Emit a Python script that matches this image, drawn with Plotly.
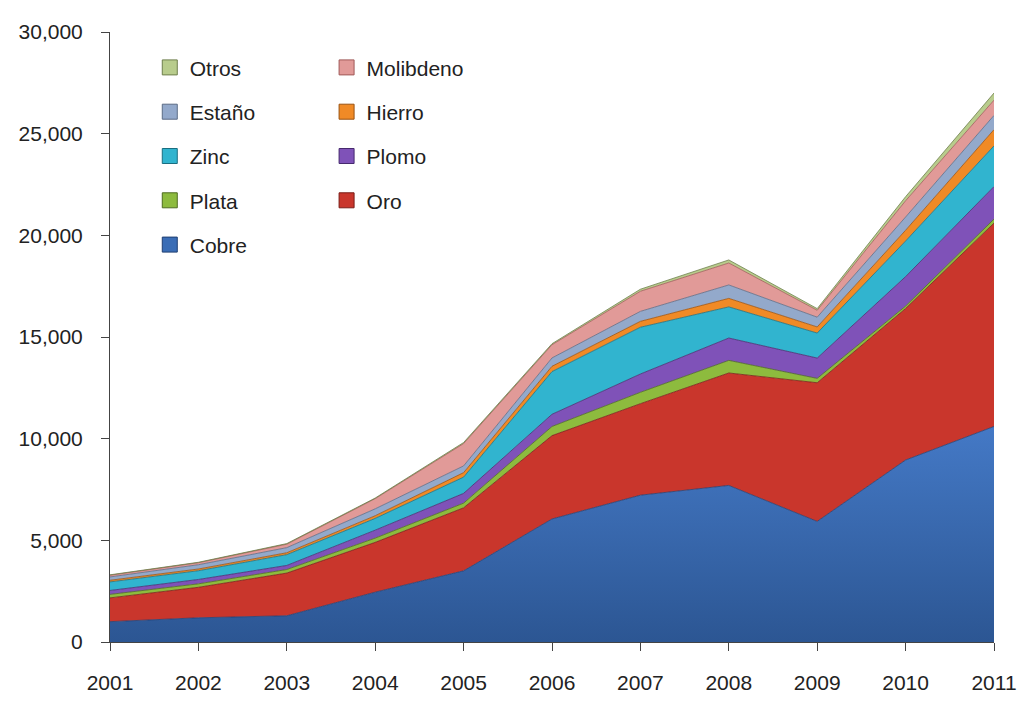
import plotly.graph_objects as go

years = [2001, 2002, 2003, 2004, 2005, 2006, 2007, 2008, 2009, 2010, 2011]

cobre     = [1000, 1190, 1290, 2450, 3500, 6050, 7220, 7700, 5930, 8950, 10600]
oro       = [1170, 1500, 2100, 2450, 3100, 4100, 4500, 5530, 6820, 7450, 10000]
plata     = [170, 170, 175, 210, 230, 450, 560, 620, 215, 120, 200]
plomo     = [195, 215, 200, 390, 480, 600, 900, 1100, 1000, 1450, 1600]
zinc      = [420, 430, 530, 580, 800, 2100, 2300, 1530, 1230, 1750, 2000]
hierro    = [82, 85, 95, 130, 220, 260, 290, 420, 300, 530, 800]
estano    = [162, 210, 250, 340, 330, 410, 490, 660, 480, 650, 700]
molibdeno = [85, 100, 170, 500, 1100, 650, 990, 1080, 340, 800, 750]
otros     = [20, 20, 30, 30, 50, 50, 100, 150, 80, 200, 350]

series = [
    ("Cobre", cobre, "#3a6db6", "#1f3f73", "legend", ["#2c5693", "#4479c6"]),
    ("Oro", oro, "#c9362c", "#7a1c16", "legend2", None),
    ("Plata", plata, "#8dbb3e", "#4d6b1e", "legend", None),
    ("Plomo", plomo, "#7f52b8", "#46296e", "legend2", None),
    ("Zinc", zinc, "#31b4cf", "#1a6e80", "legend", None),
    ("Hierro", hierro, "#f08a26", "#9a5210", "legend2", None),
    ("Estaño", estano, "#93a9cb", "#5a6b85", "legend", None),
    ("Molibdeno", molibdeno, "#e19a98", "#a05a58", "legend2", None),
    ("Otros", otros, "#b8cc8c", "#6e7f4c", "legend", None),
]

fig = go.Figure()
for name, vals, col, edge, lg, grad in series:
    kw = {}
    if grad:
        kw["fillgradient"] = dict(type="vertical",
                                  colorscale=[[0, grad[0]], [1, grad[1]]])
    fig.add_trace(go.Scatter(
        x=years, y=vals, name=name, mode="lines",
        stackgroup="one", fillcolor=col,
        line=dict(color=edge, width=0.8),
        showlegend=False, **kw,
    ))

# legend entries (square swatches), top series first
for name, vals, col, edge, lg, grad in reversed(series):
    fig.add_trace(go.Scatter(
        x=[None], y=[None], name=name, mode="markers",
        marker=dict(symbol="square", size=15, color=col,
                    line=dict(color=edge, width=1)),
        legend=lg, legendgroup=name, showlegend=True,
    ))

font_family = "Liberation Sans, Arial, sans-serif"

fig.update_layout(
    width=1033, height=702,
    margin=dict(l=110, r=39, t=32, b=60),
    paper_bgcolor="white", plot_bgcolor="white",
    font=dict(family=font_family, size=21, color="#222222"),
    showlegend=True,
    legend=dict(x=0.045, y=0.975, xanchor="left", yanchor="top",
                traceorder="grouped", tracegroupgap=14,
                font=dict(size=21), bgcolor="rgba(0,0,0,0)",
                itemsizing="trace"),
    legend2=dict(x=0.245, y=0.975, xanchor="left", yanchor="top",
                 traceorder="grouped", tracegroupgap=14,
                 font=dict(size=21), bgcolor="rgba(0,0,0,0)",
                 itemsizing="trace"),
    xaxis=dict(range=[2001, 2011], tickmode="array", tickvals=years,
               ticktext=[str(y) for y in years],
               showgrid=False, zeroline=False, showline=True,
               linecolor="#444444", linewidth=1,
               ticks="outside", ticklen=8, tickcolor="#444444",
               ticklabelstandoff=14, automargin=False),
    yaxis=dict(range=[0, 30000], tickmode="array",
               tickvals=[0, 5000, 10000, 15000, 20000, 25000, 30000],
               tickformat=",", showgrid=False, zeroline=False,
               showline=True, linecolor="#444444", linewidth=1,
               ticks="outside", ticklen=8, tickcolor="#444444",
               ticklabelstandoff=14, automargin=False),
)

fig.write_html("out.html")
